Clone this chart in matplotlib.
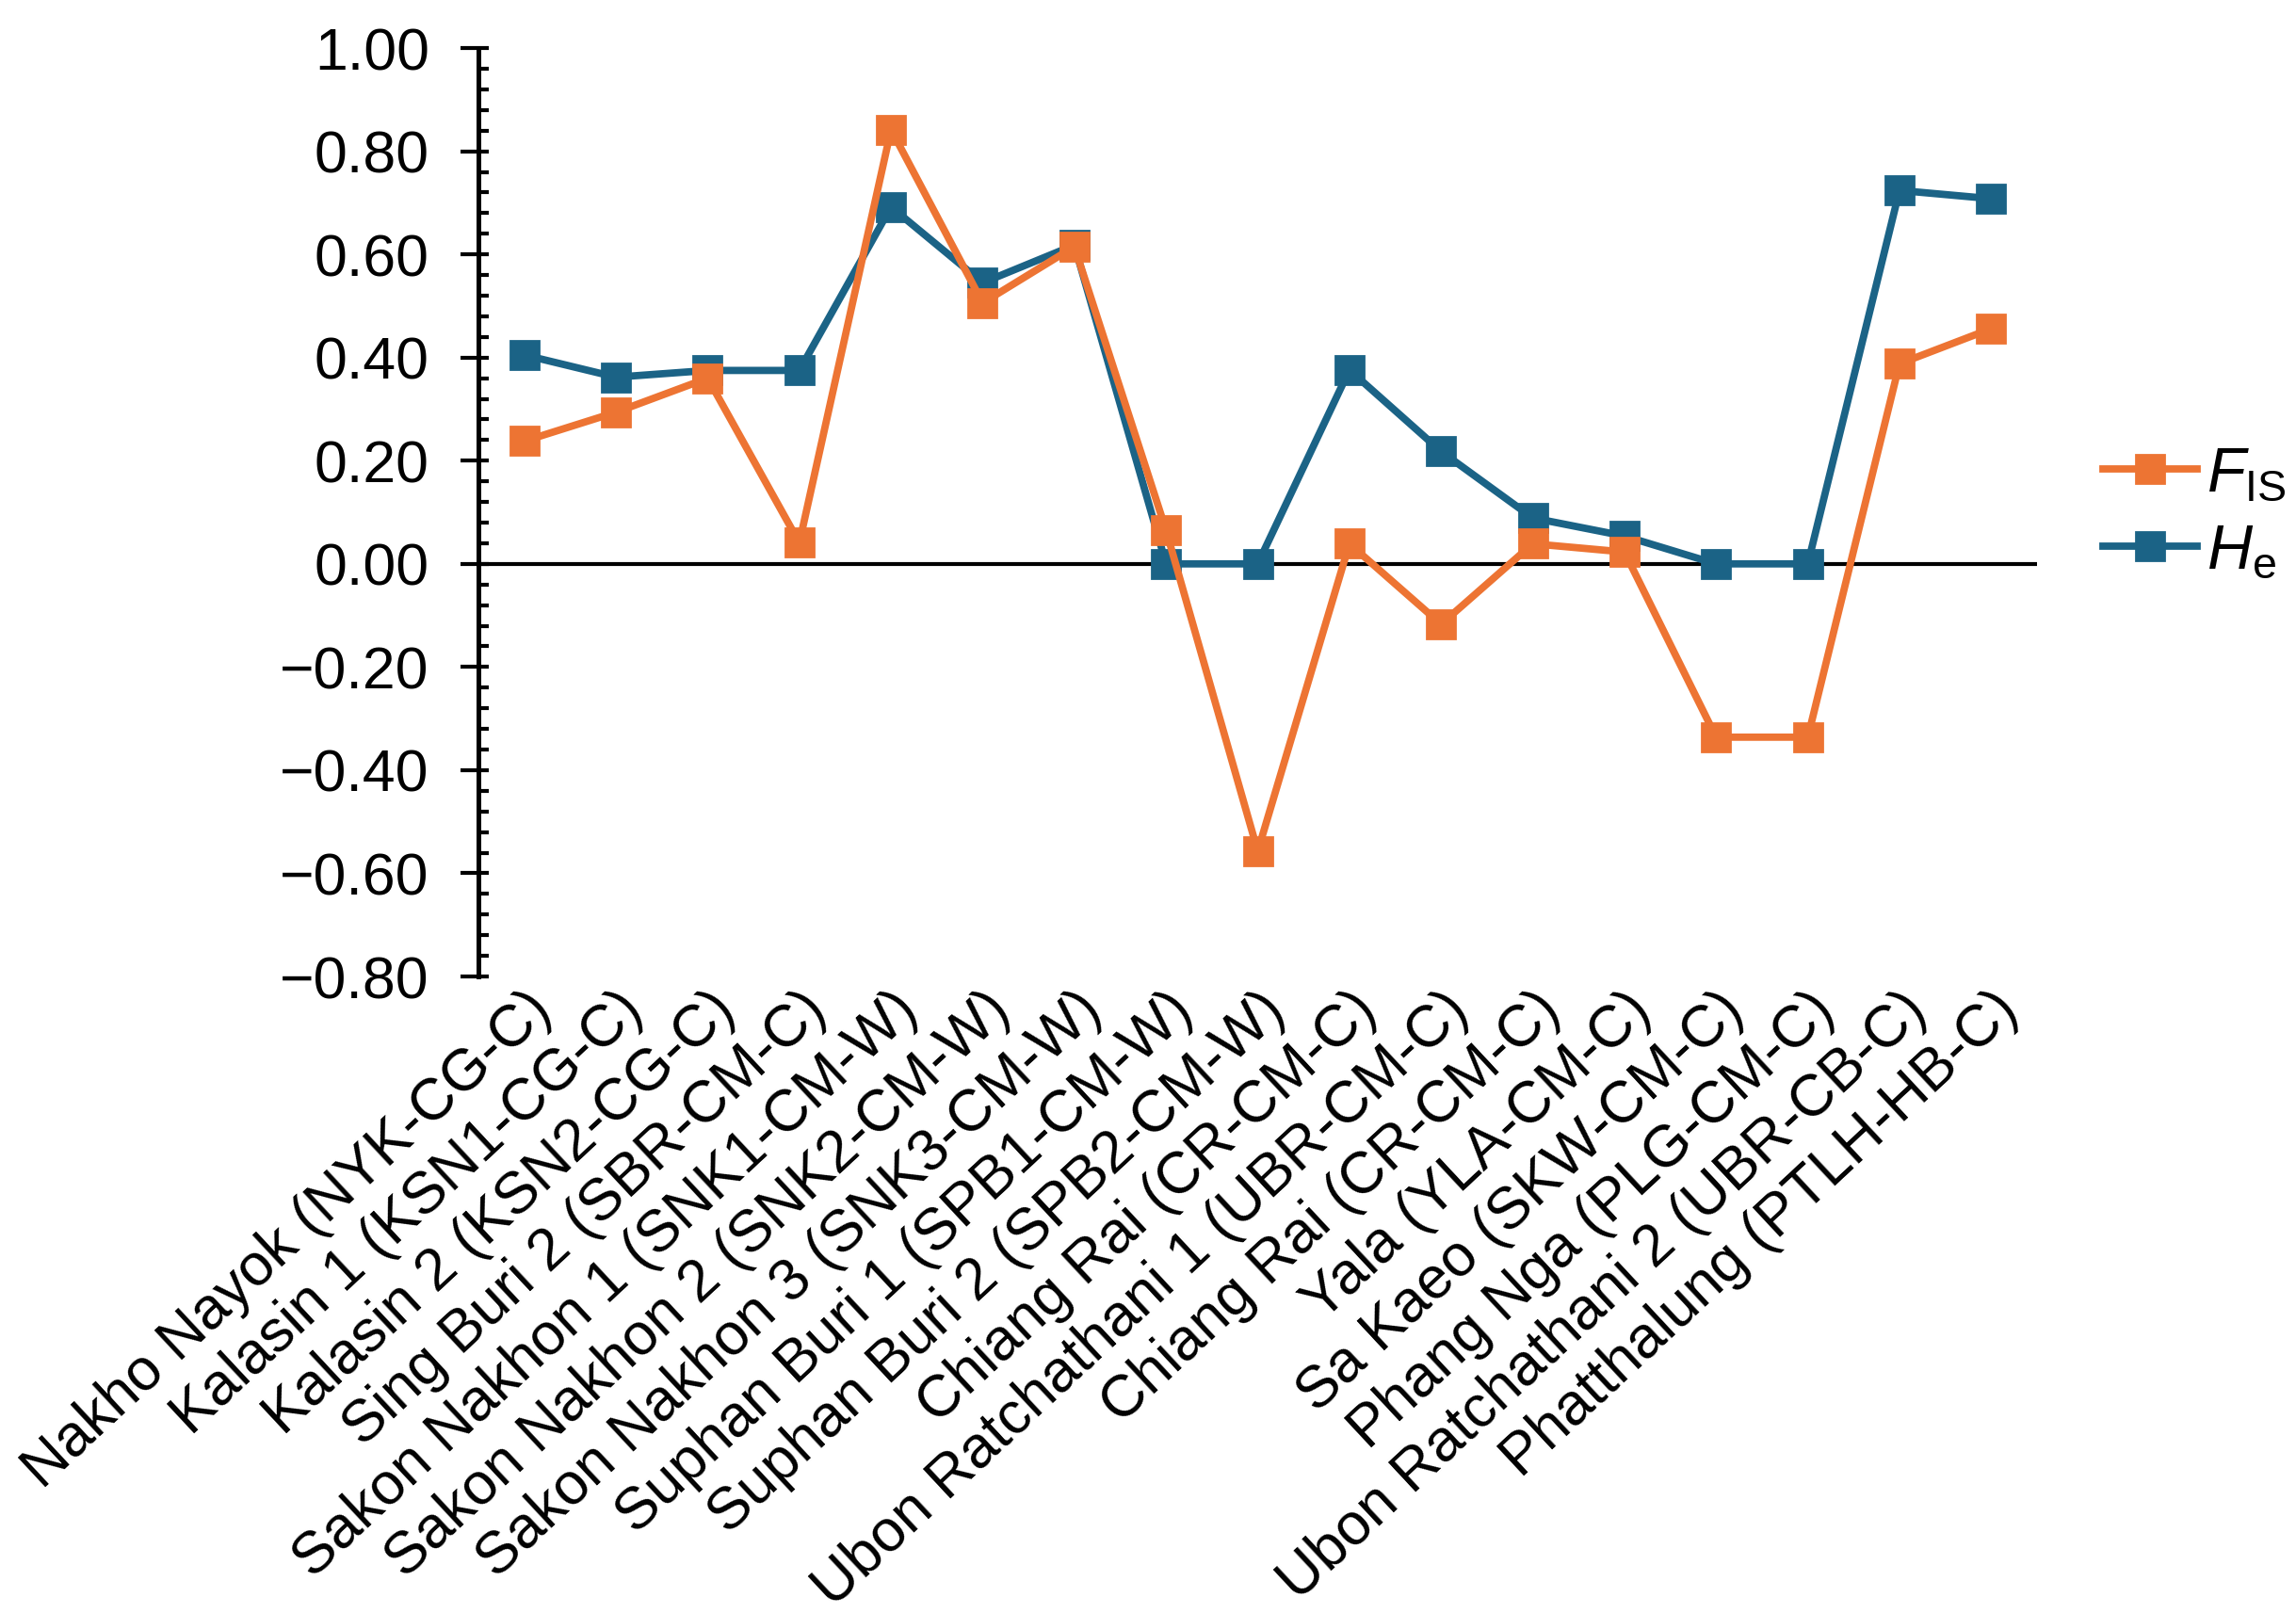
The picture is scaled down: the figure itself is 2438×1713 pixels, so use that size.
import numpy as np
import matplotlib
matplotlib.use("Agg")
import matplotlib.pyplot as plt
from matplotlib.ticker import FixedLocator, FuncFormatter

plt.rcParams["font.family"] = ["Liberation Sans", "DejaVu Sans"]
plt.rcParams["mathtext.fontset"] = "custom"
plt.rcParams["mathtext.rm"] = "Liberation Sans"
plt.rcParams["mathtext.it"] = "Liberation Sans:italic"

# 数据
populations = [
    "Nakho Nayok (NYK-CG-C)",
    "Kalasin 1 (KSN1-CG-C)",
    "Kalasin 2 (KSN2-CG-C)",
    "Sing Buri 2 (SBR-CM-C)",
    "Sakon Nakhon 1 (SNK1-CM-W)",
    "Sakon Nakhon 2 (SNK2-CM-W)",
    "Sakon Nakhon 3 (SNK3-CM-W)",
    "Suphan Buri 1 (SPB1-CM-W)",
    "Suphan Buri 2 (SPB2-CM-W)",
    "Chiang Rai (CR-CM-C)",
    "Ubon Ratchathani 1 (UBR-CM-C)",
    "Chiang Rai (CR-CM-C)",
    "Yala (YLA-CM-C)",
    "Sa Kaeo (SKW-CM-C)",
    "Phang Nga (PLG-CM-C)",
    "Ubon Ratchathani 2 (UBR-CB-C)",
    "Phatthalung (PTLH-HB-C)",
]
fis = [0.238, 0.294, 0.360, 0.041, 0.842, 0.506, 0.615, 0.065, -0.557, 0.039,
       -0.117, 0.039, 0.023, -0.336, -0.336, 0.388, 0.456]
he = [0.405, 0.362, 0.375, 0.375, 0.692, 0.545, 0.618, 0.0, 0.0, 0.376,
      0.218, 0.089, 0.054, 0.0, 0.0, 0.724, 0.708]

yticks = [-0.8, -0.6, -0.4, -0.2, 0.0, 0.2, 0.4, 0.6, 0.8, 1.0]

# 颜色
orange = "#ED7433"
blue = "#1B6386"

fig = plt.figure(figsize=(12.19, 8.565), dpi=200)
ax = fig.add_axes([0.2084, 0.3946, 0.8872 - 0.2084, 0.9702 - 0.3946])

x = np.arange(len(populations))
ax.plot(x, he, color=blue, lw=2.8, marker="s", ms=10.5, mec=blue,
        label=r"$H_{\mathrm{e}}$", zorder=3)
ax.plot(x, fis, color=orange, lw=2.8, marker="s", ms=10.5, mec=orange,
        label=r"$F_{\mathrm{IS}}$", zorder=4)

# 横轴在0处
ax.axhline(0, color="black", lw=1.5, zorder=2)

ax.set_xlim(-0.5, len(populations) - 0.5)
ax.set_ylim(-0.8, 1.0)

for s in ["top", "right", "bottom"]:
    ax.spines[s].set_visible(False)
ax.spines["left"].set_linewidth(1.8)

ax.set_yticks(yticks)
ax.yaxis.set_major_formatter(
    FuncFormatter(lambda v, p: f"{v:.2f}".replace("-", "\u2212")))
ax.yaxis.set_minor_locator(FixedLocator(np.arange(-0.8, 1.0001, 0.04)))
ax.yaxis.remove_overlapping_locs = False
ax.tick_params(axis="y", which="major", direction="out", length=6.8,
               width=1.5, labelsize=22.5, pad=12)
ax.tick_params(axis="y", which="minor", direction="in", length=4, width=1.5)

ax.set_xticks(x)
ax.set_xticklabels(populations, rotation=43, ha="right", va="top",
                   rotation_mode="anchor", fontsize=22.5)
ax.tick_params(axis="x", length=0, pad=2)

handles, labels = ax.get_legend_handles_labels()
leg = fig.legend(handles[::-1], labels[::-1], loc="center left",
                 bbox_to_anchor=(2233 / 2438, 1 - 545 / 1713),
                 frameon=False, fontsize=24, handlelength=1.5,
                 handletextpad=0.15, labelspacing=0.3, borderpad=0,
                 borderaxespad=0)

fig.savefig("out.png", dpi=200)
